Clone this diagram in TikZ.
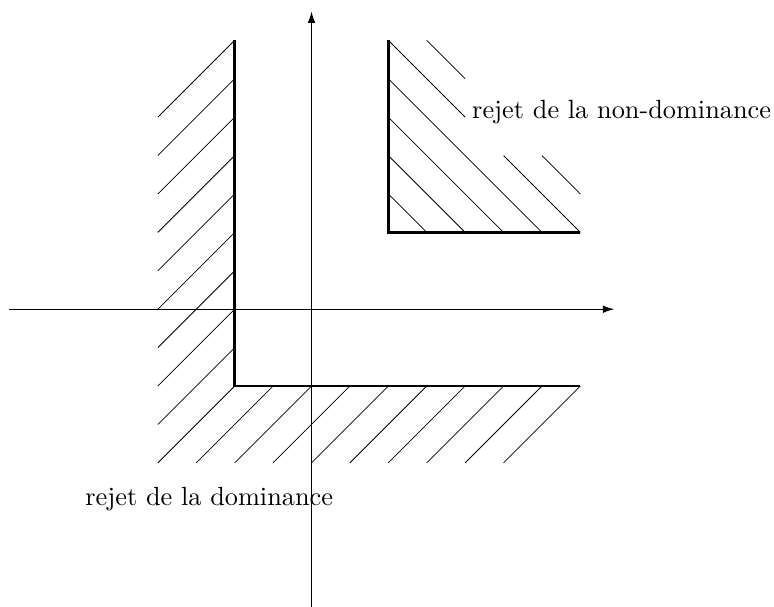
\documentclass[tikz,border=0pt]{standalone}
\usetikzlibrary{arrows.meta}

\begin{document}
\begin{tikzpicture}[scale=0.534]

  \useasboundingbox (-8.11,-7.75) rectangle (12.04,8.05);

  % axes
  \draw[-{Latex[length=4.5pt,width=3pt]}] (-7.88,0) -- (7.88,0);
  \draw[-{Latex[length=4.5pt,width=3pt]}] (0,-7.8) -- (0,7.75);

  % bords des regions
  \draw[line width=1pt] (-2,7) -- (-2,-2) -- (7,-2);
  \draw[line width=1pt] (2,7) -- (2,2) -- (7,2);

  % hachures a gauche
  \draw[line width=0.3pt] (-4,5) -- (-2,7);
  \draw[line width=0.3pt] (-4,4) -- (-2,6);
  \draw[line width=0.3pt] (-4,3) -- (-2,5);
  \draw[line width=0.3pt] (-4,2) -- (-2,4);
  \draw[line width=0.3pt] (-4,1) -- (-2,3);
  \draw[line width=0.3pt] (-4,0) -- (-2,2);
  \draw[line width=0.3pt] (-4,-1) -- (-2,1);
  \draw[line width=0.3pt] (-4,-2) -- (-2,0);
  \draw[line width=0.3pt] (-4,-3) -- (-2,-1);
  \draw[line width=0.3pt] (-4,-4) -- (-2,-2);

  % hachures en bas
  \draw[line width=0.3pt] (-3,-4) -- (-1,-2);
  \draw[line width=0.3pt] (-2,-4) -- (0,-2);
  \draw[line width=0.3pt] (-1,-4) -- (1,-2);
  \draw[line width=0.3pt] (0,-4) -- (2,-2);
  \draw[line width=0.3pt] (1,-4) -- (3,-2);
  \draw[line width=0.3pt] (2,-4) -- (4,-2);
  \draw[line width=0.3pt] (3,-4) -- (5,-2);
  \draw[line width=0.3pt] (4,-4) -- (6,-2);
  \draw[line width=0.3pt] (5,-4) -- (7,-2);

  % hachures en haut a droite
  \draw[line width=0.3pt] (2,3) -- (3,2);
  \draw[line width=0.3pt] (2,4) -- (4,2);
  \draw[line width=0.3pt] (2,5) -- (5,2);
  \draw[line width=0.3pt] (2,6) -- (6,2);
  \draw[line width=0.3pt] (2,7) -- (4,5);
  \draw[line width=0.3pt] (5,4) -- (7,2);
  \draw[line width=0.3pt] (3,7) -- (4,6);
  \draw[line width=0.3pt] (6,4) -- (7,3);

  \node[anchor=base west, inner sep=0, font=\fontsize{10.4pt}{12pt}\selectfont] (nondom) at (4.17,4.97) {rejet de la non-dominance};
  \node[anchor=base west, inner sep=0, font=\fontsize{10.4pt}{12pt}\selectfont] (dom) at (-5.9,-5.1) {rejet de la dominance};

\end{tikzpicture}
\end{document}
